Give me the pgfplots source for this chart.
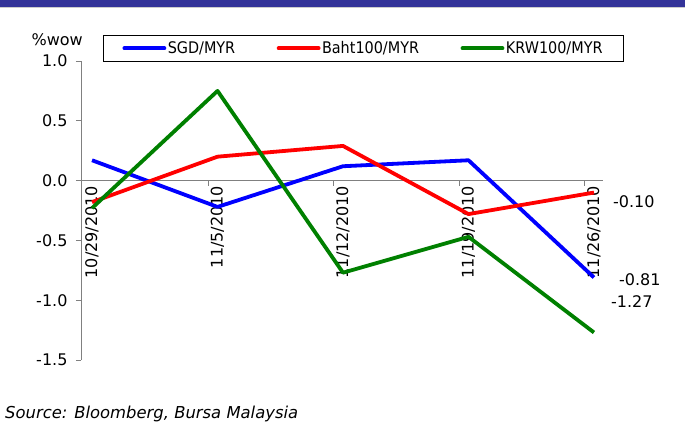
\documentclass[border=0pt]{standalone}
\usepackage{fontspec}
\setmainfont{DejaVu Sans}
\newfontfamily\legfont[FakeStretch=0.9]{DejaVu Sans}
\usepackage{pgfplots}
\pgfplotsset{compat=1.18}

\definecolor{navy}{RGB}{51,51,153}
\definecolor{axgray}{RGB}{128,128,128}
\definecolor{sgd}{RGB}{0,0,255}
\definecolor{baht}{RGB}{255,0,0}
\definecolor{krw}{RGB}{0,128,0}

\begin{document}
\fontsize{16pt}{19pt}\selectfont
\begin{tikzpicture}[x=1pt,y=1pt]
\path[use as bounding box] (0,0) rectangle (685,423);
% header band
\fill[navy] (0,416) rectangle (685,423);
\draw[black!20, line width=0.8pt] (0,415.6) -- (685,415.6);

\begin{axis}[
  at={(81pt,63pt)}, anchor=south west,
  scale only axis, width=522pt, height=299pt,
  xmin=-0.088, xmax=4.072, ymin=-1.5, ymax=1.0,
  axis x line*=middle, axis y line*=left,
  axis line style={draw=axgray, line width=0.9pt},
  tick style={draw=axgray, line width=0.9pt},
  tick align=outside, major tick length=5pt,
  ytick={-1.5,-1,-0.5,0,0.5,1},
  yticklabel style={xshift=-3pt, /pgf/number format/.cd, fixed, fixed zerofill, precision=1, assume math mode=true},
  xtick={0.925,1.925,2.925,3.925}, xticklabels={},
  extra x ticks={0,1,2,3,4},
  extra x tick labels={10/29/2010,11/5/2010,11/12/2010,11/19/2010,11/26/2010},
  extra x tick style={major tick length=0pt, xticklabel style={rotate=90, anchor=east}},
  clip=false,
  legend columns=3,
  legend cell align=left,
  legend image code/.code={\draw[#1, line cap=round] (0pt,0pt) -- (40pt,0pt);},
  legend style={at={(axis description cs:0.042,1.087)}, anchor=north west,
    draw=black, line width=1.1pt, font=\legfont,
    inner xsep=19pt, inner ysep=4pt,
    nodes={inner sep=1.5pt},
    /tikz/every even column/.append style={column sep=40pt}},
]
\addplot[sgd, line width=3.8pt, line join=round] coordinates
  {(0,0.17) (1,-0.22) (2,0.12) (3,0.17) (4,-0.81)};
\addlegendentry{SGD/MYR}
\addplot[baht, line width=3.8pt, line join=round] coordinates
  {(0,-0.18) (1,0.20) (2,0.29) (3,-0.28) (4,-0.10)};
\addlegendentry{Baht100/MYR}
\addplot[krw, line width=3.8pt, line join=round] coordinates
  {(0,-0.23) (1,0.75) (2,-0.77) (3,-0.47) (4,-1.27)};
\addlegendentry{KRW100/MYR}

% end-of-period values
\node[anchor=west, inner sep=0pt] at (axis cs:4,-0.10) [xshift=19pt, yshift=-9pt] {-0.10};
\node[anchor=west, inner sep=0pt] at (axis cs:4,-0.81) [xshift=25pt, yshift=-2pt] {-0.81};
\node[anchor=west, inner sep=0pt] at (axis cs:4,-1.27) [xshift=17pt, yshift=31pt] {-1.27};
\end{axis}

\node[anchor=base east, inner sep=0pt] at (83,377) {\%wow};
\node[anchor=base west, inner sep=0pt, font=\fontsize{16.4pt}{19pt}\selectfont\itshape] at (5,5) {Source: Bloomberg, Bursa Malaysia};
\end{tikzpicture}
\end{document}
